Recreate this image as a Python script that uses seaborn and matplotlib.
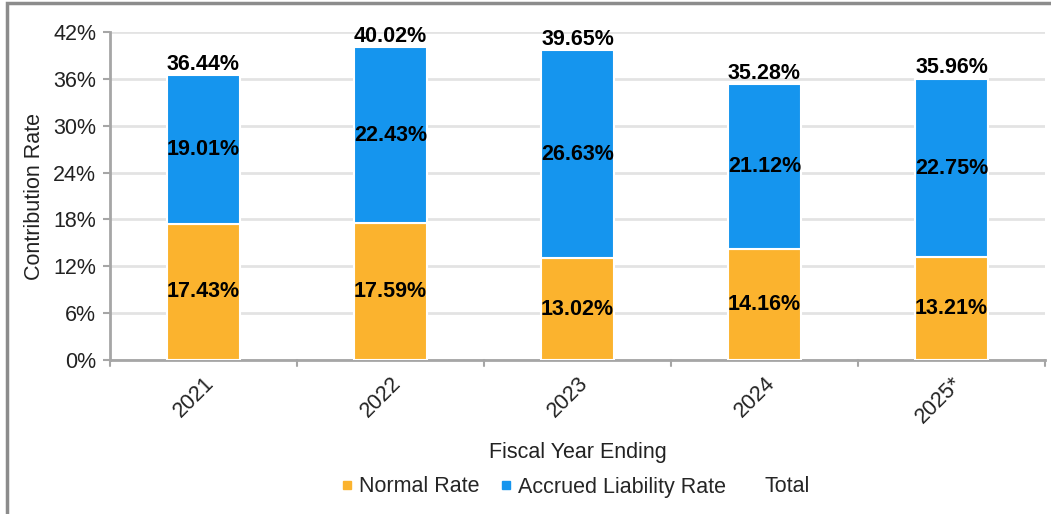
import matplotlib
matplotlib.use("Agg")
import matplotlib.pyplot as plt
from matplotlib.lines import Line2D
from matplotlib.patches import Rectangle
import seaborn as sns
import pandas as pd
import numpy as np

years = ["2021", "2022", "2023", "2024", "2025*"]
normal_rate = [17.43, 17.59, 13.02, 14.16, 13.21]
accrued_rate = [19.01, 22.43, 26.63, 21.12, 22.75]
total_rate = [36.44, 40.02, 39.65, 35.28, 35.96]
yticks = [0, 6, 12, 18, 24, 30, 36, 42]

ORANGE = "#FBB32E"
BLUE = "#1595EE"
GRID = "#E3E3E3"
AXC = "#A6A6A6"
FS = 15.5

sns.set_theme(style="white")
plt.rcParams["font.family"] = ["Liberation Sans", "DejaVu Sans"]

fig = plt.figure(figsize=(10.51, 5.14), dpi=100)
ax = fig.add_axes([110/1051, 1-360/514, (1045-110)/1051, (360-32)/514])

df = pd.DataFrame({"year": years, "normal": normal_rate, "accrued": accrued_rate})
sns.barplot(data=df, x="year", y="normal", color=ORANGE, width=0.39,
            edgecolor="white", linewidth=1.5, ax=ax, saturation=1, zorder=3)
sns.barplot(data=df, x="year", y="accrued", color=BLUE, width=0.39,
            bottom=np.array(normal_rate), edgecolor="white", linewidth=1.5,
            ax=ax, saturation=1, zorder=3)

for i in range(len(years)):
    n, a, t = normal_rate[i], accrued_rate[i], total_rate[i]
    ax.text(i, n/2, f"{n:.2f}%", ha="center", va="center", fontsize=FS,
            fontweight="bold", color="black", zorder=5)
    ax.text(i, n + a/2, f"{a:.2f}%", ha="center", va="center", fontsize=FS,
            fontweight="bold", color="black", zorder=5)
    ax.text(i, t + 0.1, f"{t:.2f}%", ha="center", va="bottom", fontsize=FS,
            fontweight="bold", color="black", zorder=5)

ax.set_ylim(0, 42)
ax.set_xlim(-0.5, len(years) - 0.5)
ax.set_yticks(yticks)
ax.set_yticklabels([f"{v}%" for v in yticks], fontsize=FS, color="#222222")
ax.yaxis.grid(True, color=GRID, linewidth=2)
ax.set_axisbelow(True)

ax.set_xticks(range(len(years)))
ax.set_xticklabels(years, rotation=45, ha="right", rotation_mode="anchor",
                   fontsize=FS, color="#222222")
ax.tick_params(axis="x", length=0, pad=9)
ax.tick_params(axis="y", length=5, width=1.5, color=AXC, pad=5, left=True)
# category boundary ticks on x-axis
for b in np.arange(-0.5, len(years), 1.0):
    ax.plot([b, b], [0, -0.8], color=AXC, lw=1.5, clip_on=False, zorder=4)

for s in ["top", "right"]:
    ax.spines[s].set_visible(False)
for s in ["left", "bottom"]:
    ax.spines[s].set_color(AXC)
    ax.spines[s].set_linewidth(2)

ax.set_xlabel("Fiscal Year Ending", fontsize=FS, color="#222222", labelpad=11)
ax.set_ylabel("Contribution Rate", fontsize=FS, color="#222222", labelpad=6)

handles = [
    Line2D([], [], marker="s", color="none", markerfacecolor=ORANGE,
           markeredgecolor=ORANGE, markersize=6),
    Line2D([], [], marker="s", color="none", markerfacecolor=BLUE,
           markeredgecolor=BLUE, markersize=6),
    Line2D([], [], marker="s", color="none", markerfacecolor="none",
           markeredgecolor="none", markersize=6),
]
fig.legend(handles, ["Normal Rate", "Accrued Liability Rate", "Total"],
           loc="center", bbox_to_anchor=(576/1051, 1-487/514), ncol=3,
           frameon=False, fontsize=FS, handlelength=0.5, handletextpad=0.3,
           columnspacing=1.0)

fig.add_artist(Rectangle((7/1051, -0.1), 1.2, 1.1 - 3/514,
                         transform=fig.transFigure, fill=False,
                         edgecolor="#8C8C8C", linewidth=2.5))

fig.savefig("out.png", dpi=100)
